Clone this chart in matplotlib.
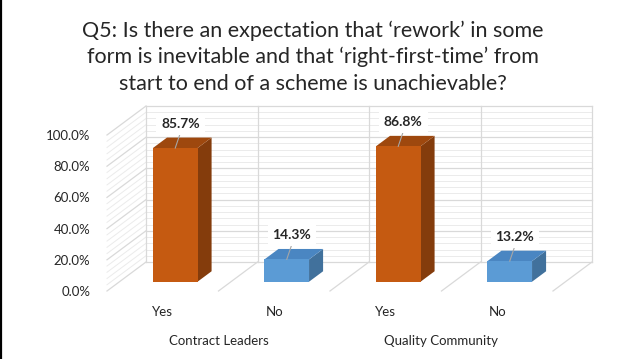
import numpy as np
import matplotlib.pyplot as plt
from matplotlib.patches import Polygon
from matplotlib.lines import Line2D

# data
categories = ['Yes', 'No', 'Yes', 'No']
groups = ['Contract Leaders', 'Quality Community']
values = [85.7, 14.3, 86.8, 13.2]
ytick_vals = [0, 20, 40, 60, 80, 100]

title = ('Q5: Is there an expectation that \u2018rework\u2019 in some\n'
         'form is inevitable and that \u2018right-first-time\u2019 from\n'
         'start to end of a scheme is unachievable?')

# colours (front, side, top)
orange = ('#C55A11', '#843C0C', '#9E480E')
blue = ('#5B9BD5', '#41719C', '#4A86C2')
bar_colors = [orange, blue, orange, blue]
grid_col = '#D9D9D9'
minor_col = '#EBEBEB'

plt.rcParams['font.family'] = ['Lato', 'DejaVu Sans']

fig = plt.figure(figsize=(6.25, 3.59), dpi=100)
W, H = 625, 359

# front plane of the 3d box
ax = fig.add_axes([107 / W, (H - 291) / H, 446 / W, 156 / H])
ax.set_xlim(-0.5, 3.5)
ax.set_ylim(0, 100)
for s in ax.spines.values():
    s.set_visible(False)

# oblique depth offset (categories, percent)
DX, DY = 0.35, 18.6


def proj(x, z, d):
    return (x + DX * d, z + DY * d)


n = len(categories)
x0, x1 = -0.5, n - 0.5

# back wall + left wall gridlines
minor = np.arange(0, 100.1, 4)
for z in minor:
    major = (z % 20 == 0)
    col = grid_col if major else minor_col
    lw = 0.9 if major else 0.7
    bx0, bz = proj(x0, z, 1)
    bx1, _ = proj(x1, z, 1)
    ax.plot([bx0, bx1], [bz, bz], color=col, lw=lw, clip_on=False, zorder=1)
    ax.plot([x0, bx0], [z, bz], color=col, lw=lw, clip_on=False, zorder=1)

# back wall verticals and floor lines at category boundaries
for b in np.arange(x0, x1 + 0.01, 1.0):
    bx, bz0 = proj(b, 0, 1)
    _, bz1 = proj(b, 100, 1)
    ax.plot([bx, bx], [bz0, bz1], color=grid_col, lw=0.9, clip_on=False, zorder=1)
    if b > x0:
        ax.plot([b, bx], [0, bz0], color=grid_col, lw=0.9, clip_on=False, zorder=1)

# bars
bw = 0.40
d0, d1 = 0.32, 0.68
for i, (v, (cf, cs, ct)) in enumerate(zip(values, bar_colors)):
    l, r = i - bw / 2, i + bw / 2
    front = [proj(l, 0, d0), proj(r, 0, d0), proj(r, v, d0), proj(l, v, d0)]
    side = [proj(r, 0, d0), proj(r, 0, d1), proj(r, v, d1), proj(r, v, d0)]
    top = [proj(l, v, d0), proj(r, v, d0), proj(r, v, d1), proj(l, v, d1)]
    ax.add_patch(Polygon(side, closed=True, fc=cs, ec='none', zorder=3, clip_on=False))
    ax.add_patch(Polygon(top, closed=True, fc=ct, ec='none', zorder=3, clip_on=False))
    ax.add_patch(Polygon(front, closed=True, fc=cf, ec='none', zorder=4, clip_on=False))

    # data label with leader line
    fx, fz = proj(i, v, d0)
    lx, lz = proj(i - 0.08, v + 5, d1)
    ax.plot([fx, lx], [fz, lz - 2], color='#A6A6A6', lw=0.8, zorder=5, clip_on=False)
    ax.text(lx, lz, f'{v:.1f}%', ha='center', va='bottom', fontsize=10,
            fontweight='bold', color='#262626', zorder=6,
            bbox=dict(fc='white', ec='none', pad=3.5))

# axes labels
ax.set_yticks(ytick_vals)
ax.set_yticklabels([f'{t:.1f}%' for t in ytick_vals])
ax.set_xticks(range(n))
ax.set_xticklabels(categories)
ax.tick_params(axis='y', length=0, pad=12, labelsize=9.5, labelcolor='#262626')
ax.tick_params(axis='x', length=0, pad=11, labelsize=9.5, labelcolor='#262626')

# group labels
for g, name in enumerate(groups):
    ax.text(2 * g + 0.5, -32, name, ha='center', va='center', fontsize=9.5,
            color='#262626', clip_on=False)

fig.text(0.5, 1 - 57 / H, title, ha='center', va='center', fontsize=15.5,
         color='#262626', linespacing=1.38)

# border on the left edge
fig.add_artist(Line2D([1.5 / W, 1.5 / W], [0, 1], color='black', lw=1.6,
                      transform=fig.transFigure))

fig.savefig('out.png', dpi=100)
